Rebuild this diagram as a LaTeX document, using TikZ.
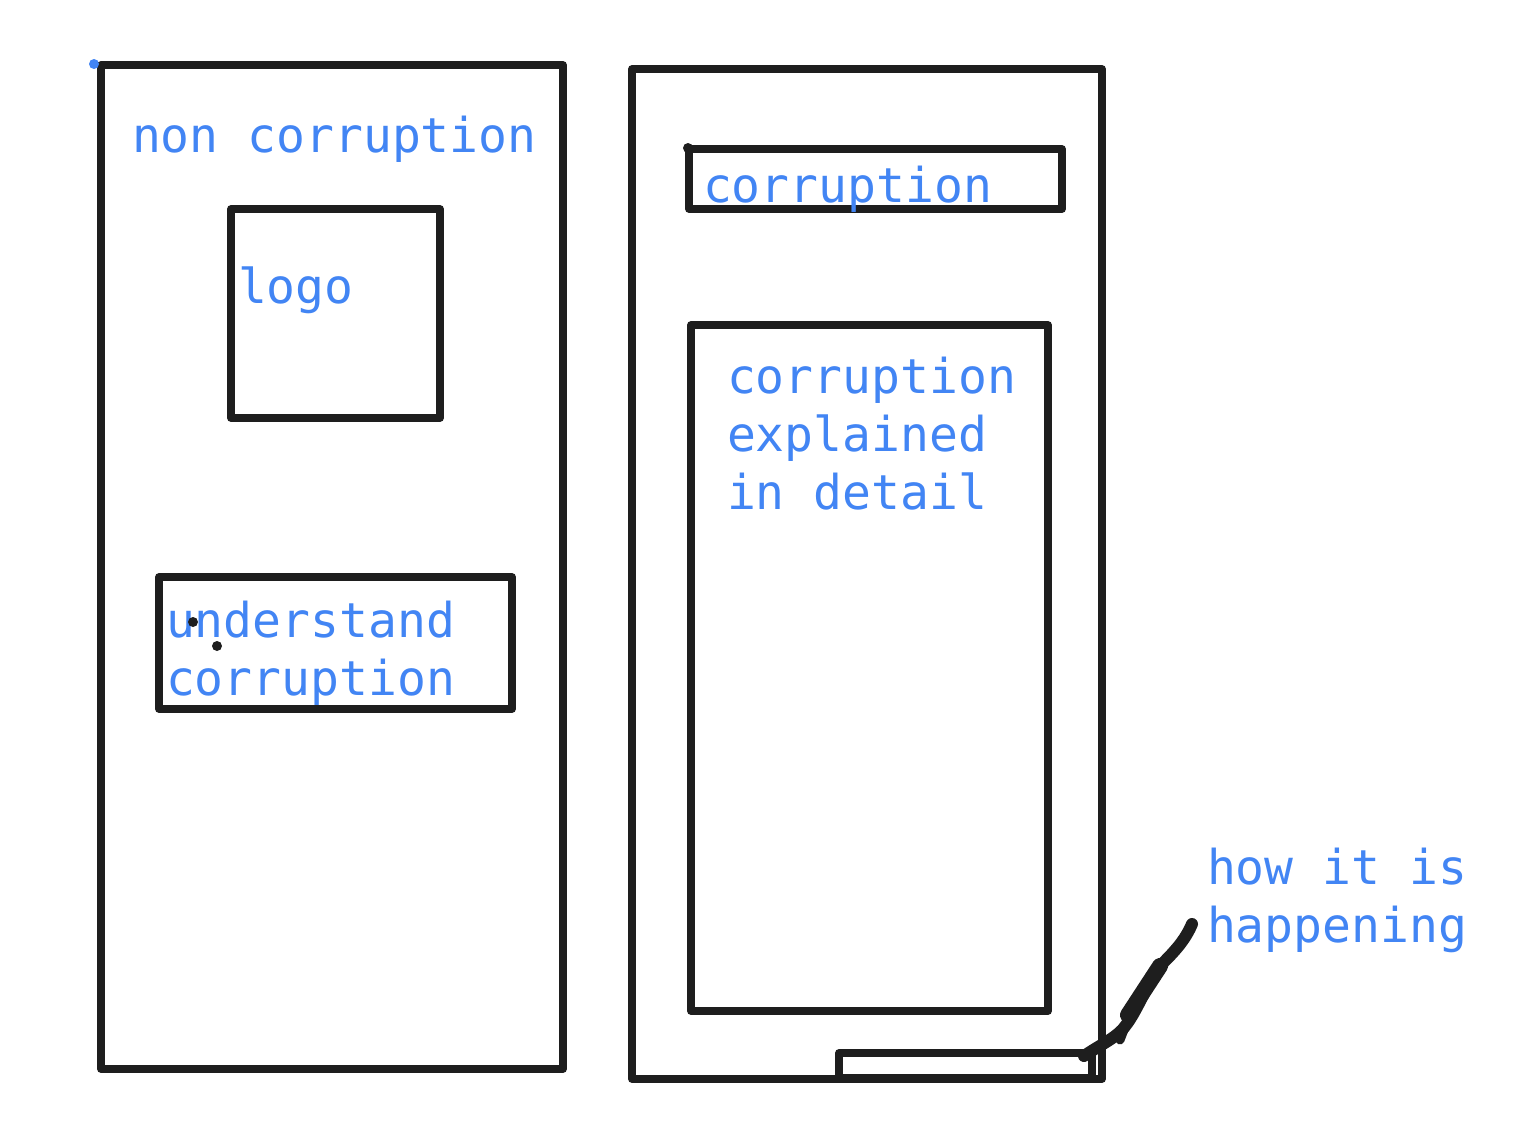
\documentclass[tikz,border=0pt]{standalone}
\usepackage{fontspec}
\setmonofont{DejaVu Sans Mono}
\definecolor{inkblack}{HTML}{1E1E1E}
\definecolor{inkblue}{HTML}{4285F4}
\begin{document}
\begin{tikzpicture}[x=1pt,y=-1pt,
  frame/.style={draw=inkblack,line width=7.5pt,line join=round,inner sep=0pt,outer sep=0pt,anchor=north west},
  label/.style={text=inkblue,font=\ttfamily\fontsize{48}{58}\selectfont,inner sep=0pt,outer sep=0pt,anchor=base west,align=left}]
\useasboundingbox[fill=white] (0,0) rectangle (1534,1148);
% left page
\node[frame,minimum width=462pt,minimum height=1004pt] (leftpage) at (101,65) {};
\node[frame,minimum width=209pt,minimum height=209pt] (logobox) at (231,209) {};
\node[frame,minimum width=353pt,minimum height=132pt] (underbox) at (159,577) {};
\node[label] (title) at (132,152) {non corruption};
\node[label] (logo) at (238,303) {logo};
\node[label] (under) at (166,695) {understand\\corruption};
\fill[inkblue] (94,64) circle (5pt);
\fill[inkblack] (193,622) circle (5pt);
\fill[inkblack] (217,646) circle (5pt);
% right page
\node[frame,minimum width=470pt,minimum height=1010pt] (rightpage) at (632,69) {};
\node[frame,minimum width=373pt,minimum height=60pt] (corrbox) at (689,149) {};
\node[frame,minimum width=357pt,minimum height=686pt] (explbox) at (691,325) {};
\node[frame,minimum width=253pt,minimum height=25pt] (footbox) at (839,1053) {};
\fill[inkblack] (688,148) circle (5pt);
\node[label] (corr) at (703,202) {corruption};
\node[label] (expl) at (727,509) {corruption\\explained\\in detail};
\node[label] (how) at (1207,942) {how it is\\happening};
% pen stroke
\coordinate (penend) at (1192,924);
\draw[inkblack,line width=12pt,line cap=round,line join=round]
  (footbox.north east) ++(-8,3) .. controls (1100,1045) and (1112,1040) .. (1122,1030)
  .. controls (1138,1012) and (1145,985) .. (1163,963)
  .. controls (1178,948) and (1186,938) .. (penend);
\draw[inkblack,line width=16pt,line cap=round] (1128,1015) -- (1160,966);
\draw[inkblack,line width=9pt,line cap=round] (1120,1040) -- (1127,1022);
\end{tikzpicture}
\end{document}
